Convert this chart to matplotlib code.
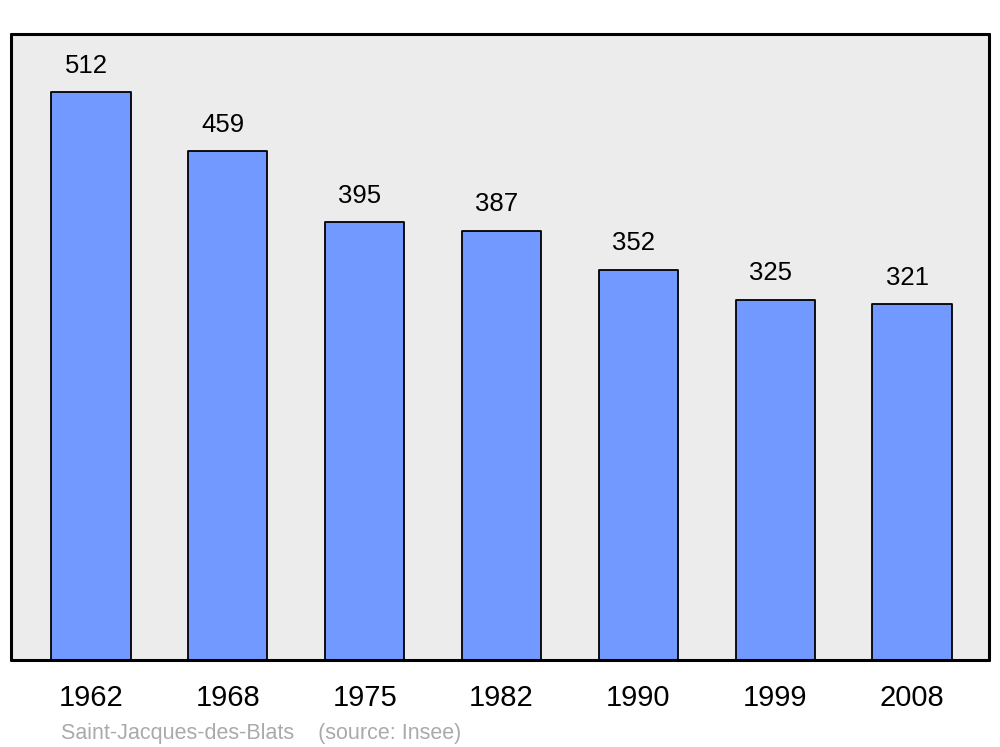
import matplotlib
matplotlib.use('Agg')
import matplotlib.pyplot as plt

years = ['1962', '1968', '1975', '1982', '1990', '1999', '2008']
population = [512, 459, 395, 387, 352, 325, 321]
commune = 'Saint-Jacques-des-Blats'
source = '(source: Insee)'

plt.rcParams['font.family'] = ['Liberation Sans', 'DejaVu Sans']


def main():
    fig = plt.figure(figsize=(10, 7.47), dpi=100)
    ax = fig.add_axes([0.011, 0.1165, 0.978, 0.838])
    ax.set_facecolor('#ececec')

    x = list(range(len(years)))
    bars = ax.bar(x, population, width=0.58, color='#7299ff',
                  edgecolor='black', linewidth=1.3, zorder=2)
    for b in bars:
        b.set_joinstyle('round')

    for xi, v in zip(x, population):
        ax.annotate(str(v), (xi, v), xytext=(-3.5, 19), textcoords='offset points',
                    ha='center', va='center', fontsize=18.5)

    ax.set_xlim(-0.584, 6.562)
    ax.set_ylim(0, 564.5)
    ax.set_xticks(x)
    ax.set_xticklabels(years, fontsize=21)
    ax.tick_params(axis='x', length=0, pad=17)
    ax.set_yticks([])
    for s in ax.spines.values():
        s.set_linewidth(2.2)
        s.set_joinstyle('round')
        s.set_capstyle('round')

    fig.text(0.061, 1 - 733 / 747, commune + '    ' + source,
             color='#aaaaaa', fontsize=15.5, ha='left', va='center')

    fig.savefig('out.png', dpi=100, facecolor='white')


if __name__ == "__main__":
    main()
